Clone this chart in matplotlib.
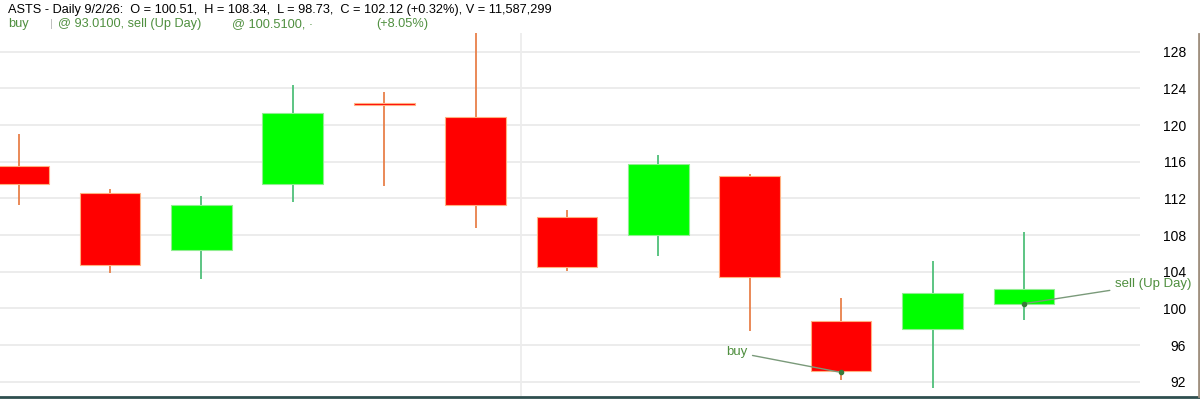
import numpy as np
import matplotlib.pyplot as plt
from matplotlib.lines import Line2D

# daily OHLC, oldest first
opens = [115.56, 112.55, 106.34, 113.60, 122.44, 120.84, 109.93, 108.00, 114.44, 98.59, 97.72, 100.51]
highs = [119.00, 113.02, 112.26, 124.37, 123.64, 130.00, 110.70, 116.73, 114.63, 101.16, 105.17, 108.34]
lows = [111.28, 103.83, 103.24, 111.64, 113.35, 108.74, 104.11, 105.71, 97.56, 92.19, 91.28, 98.73]
closes = [113.57, 104.73, 111.28, 121.28, 122.15, 111.24, 104.51, 115.78, 103.45, 93.17, 101.71, 102.12]

yticks = [92, 96, 100, 104, 108, 112, 116, 120, 124, 128]
buy_idx, buy_price = 9, 93.01
sell_idx, sell_price = 11, 100.51

header = "ASTS - Daily 9/2/26:  O = 100.51,  H = 108.34,  L = 98.73,  C = 102.12 (+0.32%), V = 11,587,299"

plt.rcParams['font.family'] = ['Liberation Sans', 'DejaVu Sans']

fig = plt.figure(figsize=(12, 4.01), dpi=100)
ax = fig.add_axes([0, 1 - 396 / 401, 0.95, (396 - 33) / 401])

x = np.arange(len(opens))
width = 0.664
for i in x:
    o, h, l, c = opens[i], highs[i], lows[i], closes[i]
    up = c >= o
    body_col = '#00ff00' if up else '#ff0000'
    edge_col = '#90ee90' if up else '#ffb080'
    wick_col = '#4fbf7a' if up else '#e8804a'
    ax.vlines(i, l, h, color=wick_col, lw=1.3, zorder=2)
    bottom = min(o, c)
    hgt = max(abs(c - o), 0.3)
    ax.bar(i, hgt, width=width, bottom=bottom, color=body_col,
           edgecolor=edge_col, linewidth=0.8, zorder=3)

for t in yticks:
    ax.axhline(t, color='#ebebeb', lw=1.3, zorder=0)
ax.axvline(5.5, color='#ededed', lw=1.3, zorder=0)

ax.set_xlim(-0.2035, 12.27)
ax.set_ylim(90.44, 130.04)

ax.yaxis.tick_right()
ax.set_yticks(yticks)
ax.set_yticklabels([str(t) for t in yticks], fontsize=10)
ax.tick_params(axis='y', length=0, pad=33)
for lab in ax.get_yticklabels():
    lab.set_horizontalalignment('right')
ax.set_xticks([])
for s in ax.spines.values():
    s.set_visible(False)

green_txt = '#4f8f3f'
ax.annotate('buy', xy=(buy_idx, buy_price), xytext=(7.97, 95.2),
            color=green_txt, fontsize=9.5, ha='right', va='center',
            arrowprops=dict(arrowstyle='-', color='#7a9a7a', lw=1.0), zorder=5)
ax.plot(buy_idx, buy_price, marker='o', ms=3, color='#3a7a3a', zorder=6)
ax.annotate('sell (Up Day)', xy=(sell_idx, sell_price), xytext=(12.0, 102.7),
            color=green_txt, fontsize=9.5, ha='left', va='center',
            arrowprops=dict(arrowstyle='-', color='#7a9a7a', lw=1.0),
            annotation_clip=False, zorder=5)
ax.plot(sell_idx, sell_price, marker='o', ms=3, color='#3a7a3a', zorder=6)

# header lines
fig.text(8 / 1200, 1 - 10 / 401, header, fontsize=9.2, va='center', color='black')
fig.text(8 / 1200, 1 - 24 / 401, 'buy', fontsize=9.2, va='center', color=green_txt)
fig.text(50 / 1200, 1 - 24 / 401, '|', fontsize=8, va='center', color='#b8b8b8')
fig.text(58 / 1200, 1 - 24 / 401, "@ 93.0100, sell (Up Day)", fontsize=9.2, va='center', color=green_txt)
fig.text(232 / 1200, 1 - 24 / 401, "@ 100.5100, ·", fontsize=9.2, va='center', color=green_txt)
fig.text(376 / 1200, 1 - 24 / 401, "(+8.05%)", fontsize=9.2, va='center', color=green_txt)

fig.add_artist(Line2D([0, 1], [1 - 397 / 401] * 2, transform=fig.transFigure,
                      color='#2f4f4f', lw=2))
fig.add_artist(Line2D([1198.5 / 1200] * 2, [1 - 396 / 401, 1 - 34 / 401],
                      transform=fig.transFigure, color='#a09080', lw=2))

fig.savefig('out.png', dpi=100)
